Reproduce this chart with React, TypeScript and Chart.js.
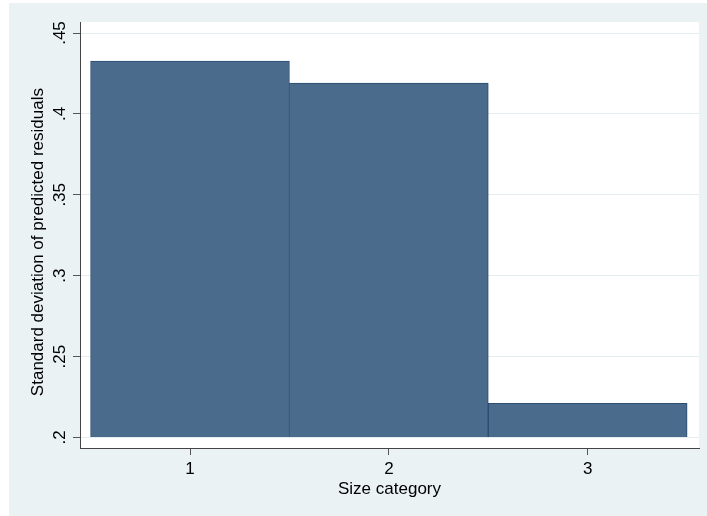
import React, { useEffect, useRef } from 'react';
import { Chart, registerables } from 'chart.js';
Chart.register(...registerables);

const categories = [1, 2, 3];
const sdResiduals = [0.4327, 0.419, 0.2211];
const xTickValues = [1, 2, 3];
const yTickValues = [0.2, 0.25, 0.3, 0.35, 0.4, 0.45];
const yTickLabels = ['.2', '.25', '.3', '.35', '.4', '.45'];
const xTitle = 'Size category';
const yTitle = 'Standard deviation of predicted residuals';

const FONT = { family: '"Liberation Sans", Arial, sans-serif', size: 17 };

const plotBg = {
  id: 'plotBg',
  beforeDraw(chart: any) {
    const { ctx, chartArea } = chart;
    ctx.save();
    ctx.fillStyle = '#ffffff';
    ctx.fillRect(chartArea.left, chartArea.top, chartArea.right - chartArea.left, chartArea.bottom - chartArea.top);
    ctx.restore();
  },
};

export default function App() {
  const ref = useRef<HTMLCanvasElement>(null);
  useEffect(() => {
    const chart = new Chart(ref.current!, {
      type: 'bar',
      data: {
        datasets: [
          {
            data: categories.map((c, i) => ({ x: c, y: sdResiduals[i] })),
            base: 0.2,
            backgroundColor: '#4a6b8c',
            borderColor: '#2c4d70',
            borderWidth: 1,
            barPercentage: 1,
            categoryPercentage: 1,
          } as any,
        ],
      },
      plugins: [plotBg],
      options: {
        animation: false,
        responsive: false,
        layout: { padding: { left: 0, top: 19, right: 8, bottom: 0 } },
        plugins: { legend: { display: false }, tooltip: { enabled: false } },
        scales: {
          x: {
            type: 'linear',
            offset: false,
            min: 0.4468,
            max: 3.5597,
            afterBuildTicks: (s: any) => {
              s.ticks = xTickValues.map((v) => ({ value: v }));
            },
            afterFit: (s: any) => {
              s.height = 68;
            },
            grid: { display: true, offset: false, drawOnChartArea: false, tickLength: 7, tickColor: '#555', tickWidth: 1 },
            border: { display: true, color: '#444', width: 1 },
            ticks: { color: '#000', font: FONT, padding: 4, maxRotation: 0, callback: (v: any) => String(v) },
            title: { display: true, text: xTitle, color: '#000', font: FONT, padding: { top: 0, bottom: 16 } },
          },
          y: {
            type: 'linear',
            min: 0.1935,
            max: 0.4568,
            afterBuildTicks: (s: any) => {
              s.ticks = yTickValues.map((v) => ({ value: v }));
            },
            afterFit: (s: any) => {
              s.width = 71;
            },
            grid: { display: true, drawOnChartArea: true, color: '#e3ecef', lineWidth: 1, tickLength: 7, tickColor: '#555', tickWidth: 1 },
            border: { display: true, color: '#444', width: 1 },
            ticks: {
              color: '#000',
              font: FONT,
              padding: 1,
              minRotation: 90,
              maxRotation: 90,
              crossAlign: 'center',
              callback: (v: any) => {
                const i = yTickValues.findIndex((t) => Math.abs(t - v) < 1e-9);
                return i >= 0 ? yTickLabels[i] : '';
              },
            },
            title: { display: true, text: yTitle + '   ', color: '#000', font: FONT, padding: { top: 19, bottom: 0 } },
          },
        },
      } as any,
    });
    return () => chart.destroy();
  }, []);
  return (
    <canvas
      ref={ref}
      width={698}
      height={513}
      style={{ position: 'absolute', left: 9, top: 3, width: 698, height: 513, background: '#eaf2f3' }}
    />
  );
}
